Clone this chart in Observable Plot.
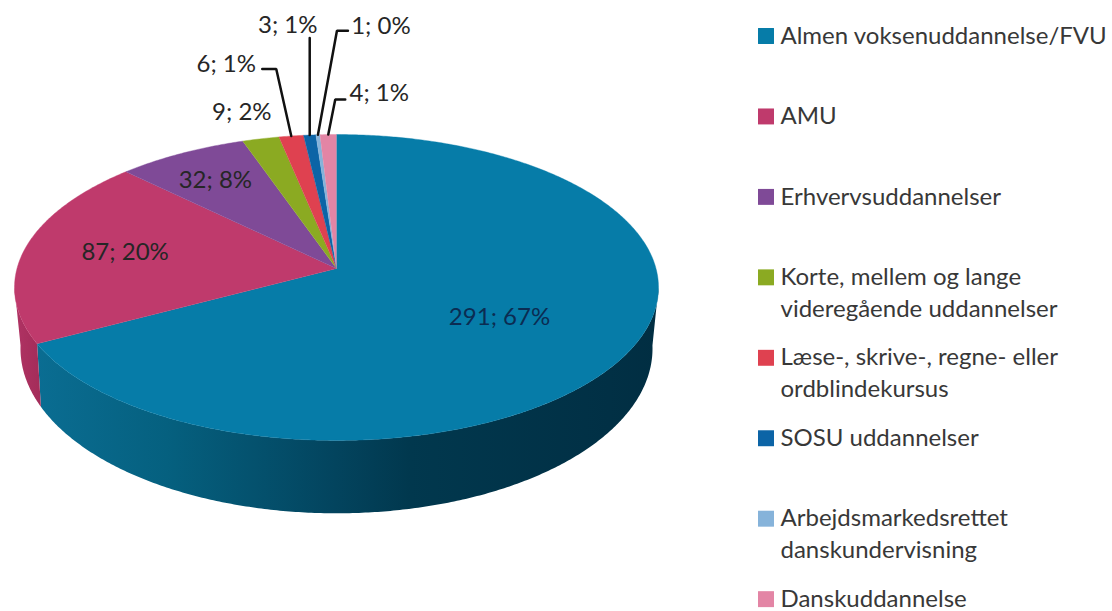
<!DOCTYPE html>
<html>
<head>
<meta charset="utf-8">
<script src="https://cdn.jsdelivr.net/npm/d3@7"></script>
<script src="https://cdn.jsdelivr.net/npm/@observablehq/plot@0.6"></script>
<style>
  html, body { margin: 0; padding: 0; background: #fff; }
  svg { display: block; }
</style>
</head>
<body>
<div id="chart"></div>
<script>
// ---- data ----
const categories = [
  "Almen voksenuddannelse/FVU",
  "AMU",
  "Erhvervsuddannelser",
  "Korte, mellem og lange\nvideregående uddannelser",
  "Læse-, skrive-, regne- eller\nordblindekursus",
  "SOSU uddannelser",
  "Arbejdsmarkedsrettet\ndanskundervisning",
  "Danskuddannelse"
];
const values = [291, 87, 32, 9, 6, 3, 1, 4];
const percents = [67, 20, 8, 2, 1, 1, 0, 1];
const colors = ["#067CA8", "#BF3A6C", "#7F4A97", "#8BAA22", "#DF4150", "#0C64A6", "#86B3DA", "#E385A5"];

// ---- label placement, in disc radii and pixel offsets from the slice's rim point ----
const labelRadius = [0.58, 0.66, 0.75, 1, 1, 1, 1, 1];
const labelOffset = [[-2, 2], [-5, -2], [-2, 0], [-19, -26], [-65, -72], [-22, -110], [63, -108], [51, -41]];
const leaderOffsets = [null, null, null, null,
  [[-15, -67], [-29, -67]],
  [[0, -97]],
  [[19, -104], [30, -104]],
  [[7, -35], [17, -35]]];

// ---- tilted disc geometry ----
const topDisc = {cx: 336, cy: 268, R: 319.5, B: 150.6, k: 0.124};
const baseDisc = {cx: 336, cy: 325, R: 312.9, B: 161.5, k: 0.14};
const wallStart = 97, wallEnd = 263;
const project = (disc, deg, r = 1) => {
  const a = deg * Math.PI / 180, u = r * Math.sin(a), v = r * Math.cos(a), w = 1 + disc.k * v;
  return {x: disc.cx + disc.R * u / w, y: disc.cy - disc.B * v / w};
};
const total = d3.sum(values);
let acc = 0;
const slices = categories.map((name, i) => {
  const start = acc / total * 360;
  acc += values[i];
  const end = acc / total * 360;
  return {name, i, start, end, mid: (start + end) / 2};
});
const sweep = (a, b, step = 0.5) => {
  const n = Math.max(2, Math.ceil(Math.abs(b - a) / step));
  return d3.range(n + 1).map(j => a + (b - a) * j / n);
};

const faces = slices.flatMap(s => [
  {name: s.name, x: topDisc.cx, y: topDisc.cy},
  ...sweep(s.start, s.end).map(d => ({name: s.name, ...project(topDisc, d)}))
]);
const wall = (a, b) => [
  ...sweep(a, b).map(d => project(topDisc, d)),
  ...sweep(b, a).map(d => project(baseDisc, d))
];
const wallBlue = wall(wallStart, slices[0].end);
const wallRed = wall(slices[0].end, wallEnd);

const labels = slices.map(s => {
  const p = project(topDisc, s.mid, labelRadius[s.i]);
  return {
    x: p.x + labelOffset[s.i][0],
    y: p.y + labelOffset[s.i][1],
    text: `${values[s.i]}; ${percents[s.i]}%`,
    inner: s.i === 0
  };
});
const leaders = slices.filter(s => leaderOffsets[s.i]).flatMap(s => {
  const p = project(topDisc, s.mid);
  return [{id: s.i, x: p.x, y: p.y}, ...leaderOffsets[s.i].map(o => ({id: s.i, x: p.x + o[0], y: p.y + o[1]}))];
});

// ---- legend ----
const legendX = 765.5, legendTextX = 780, legendTop = 35.5, legendStep = 80.45, legendLine = 32;
const legendSwatches = categories.map((name, i) => ({name, x: legendX, y: legendTop + i * legendStep}));
const legendLines = categories.flatMap((name, i) =>
  name.split("\n").map((t, j) => ({t, x: legendTextX, y: legendTop + i * legendStep + j * legendLine})));

const chart = Plot.plot({
  width: 1112, height: 611,
  margin: 0,
  style: {fontFamily: "Lato, sans-serif", background: "#fff"},
  x: {domain: [0, 1112], range: [0, 1112], axis: null},
  y: {domain: [0, 611], range: [0, 611], axis: null},
  color: {domain: categories, range: colors},
  marks: [
    Plot.line(wallBlue, {x: "x", y: "y", fill: "url(#wallBlue)", stroke: "none"}),
    Plot.line(wallRed, {x: "x", y: "y", fill: "url(#wallRed)", stroke: "none"}),
    Plot.line(faces, {x: "x", y: "y", z: "name", fill: "name", stroke: "name", strokeWidth: 0.4}),
    Plot.line(leaders, {x: "x", y: "y", z: "id", stroke: "#111", strokeWidth: 2.5, strokeLinejoin: "miter"}),
    Plot.text(labels, {x: "x", y: "y", text: "text", fontSize: 24, fill: d => d.inner ? "#0B2C52" : "#262626", lineAnchor: "middle"}),
    Plot.dot(legendSwatches, {x: "x", y: "y", fill: "name", symbol: "square", r: 9, stroke: "none"}),
    Plot.text(legendLines, {x: "x", y: "y", text: "t", textAnchor: "start", lineAnchor: "middle", fontSize: 24, fill: "#383838"})
  ]
});

const wallBlueStops = [[0, "#0A6D92"], [0.21, "#05607F"], [0.48, "#03445E"], [0.6, "#01384E"], [0.92, "#013045"], [1, "#012E42"]];
const wallRedStops = [[0, "#B03364"], [1, "#A32C59"]];
const defs = d3.select(chart).insert("defs", ":first-child");
[["wallBlue", wallBlueStops], ["wallRed", wallRedStops]].forEach(([id, stops]) => {
  const g = defs.append("linearGradient").attr("id", id).attr("x1", 0).attr("x2", 1).attr("y1", 0).attr("y2", 0);
  stops.forEach(([o, c]) => g.append("stop").attr("offset", o).attr("stop-color", c));
});
document.getElementById("chart").append(chart);
</script>
</body>
</html>
